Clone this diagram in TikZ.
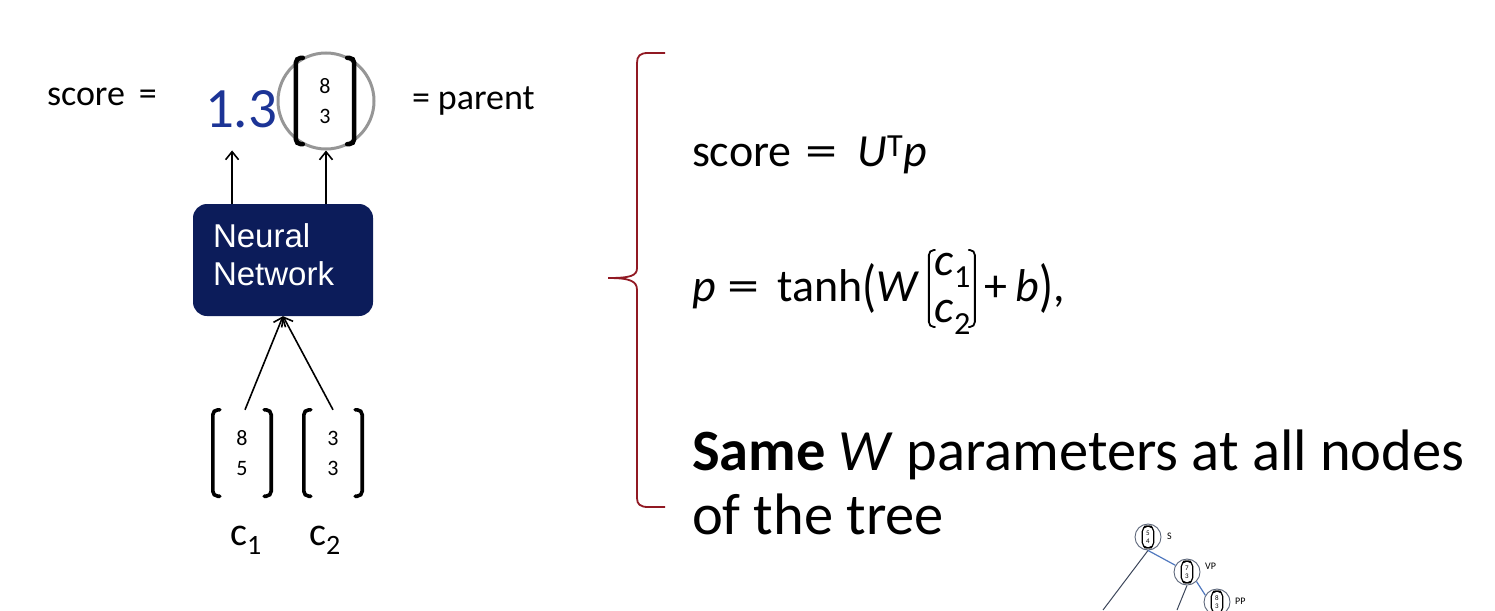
\documentclass[tikz,border=0pt]{standalone}
\usepackage{graphicx}
\usepackage{fontspec}
\setmainfont{Carlito}
\newfontfamily\arialf{Liberation Sans}
\usetikzlibrary{arrows.meta,calc}
\definecolor{nnnavy}{RGB}{12,28,90}
\definecolor{scoreblue}{RGB}{28,52,150}
\definecolor{bracered}{RGB}{145,25,35}
\definecolor{ringgray}{RGB}{150,150,150}
\definecolor{treeblue}{RGB}{80,120,190}
\definecolor{treedark}{RGB}{60,70,90}
\definecolor{treering}{RGB}{90,100,120}
\newcommand\vbr[3]{%
  \draw[brk,line width=#3] ($(#1.north west)+(#2,0)$) -- (#1.north west) -- (#1.south west) -- ($(#1.south west)+(#2,0)$);
  \draw[brk,line width=#3] ($(#1.north east)+(-#2,0)$) -- (#1.north east) -- (#1.south east) -- ($(#1.south east)+(-#2,0)$);}
\newcommand\weq{\scalebox{1.4}[1]{=}}
\begin{document}
\begin{tikzpicture}[x=1pt,y=-1pt,
  txt/.style={inner sep=0pt, outer sep=0pt},
  arr/.style={-{Straight Barb[length=8pt,width=13pt,line width=1.6pt]}, line width=1.6pt},
  vec/.style={inner sep=0pt, align=center, font=\fontsize{22}{30}\selectfont, minimum width=58pt, minimum height=86pt},
  brk/.style={line cap=round, rounded corners=5pt},
  tcirc/.style={circle, draw=treering, line width=0.9pt, minimum size=26pt, inner sep=0pt},
  tvec/.style={inner sep=0pt, align=center, font=\fontsize{7}{8}\selectfont, minimum width=11pt, minimum height=21pt},
  tlbl/.style={inner sep=0pt, anchor=west, font=\fontsize{10}{12}\selectfont},
  mid/.style={font=\fontsize{36}{43}\selectfont},
  big/.style={font=\fontsize{46}{54}\selectfont},
  huge/.style={font=\fontsize{58.5}{70}\selectfont}]
\useasboundingbox (0,0) rectangle (1495,610);

% ---- left part ----
\node[txt, mid, anchor=base west] (scoreL) at (47,105) {score\hspace{14pt}=};
\node[txt, anchor=base west, font=\fontsize{57}{68}\selectfont, text=scoreblue] (val) at (205,127) {1.3};
\node[circle, draw=ringgray, line width=3pt, minimum size=96pt, inner sep=0pt] (par) at (326,101) {};
\node[vec] (pvec) at (325,101) {8\\3};
\vbr{pvec}{7pt}{4.5pt}
\node[txt, mid, anchor=base west] (parent) at (412,109) {=\hspace{8pt}parent};

\node[fill=nnnavy, rounded corners=14pt, minimum width=180pt, minimum height=112pt, inner sep=0pt] (nn) at (283,260) {};
\node[text width=140pt, align=left, inner sep=0pt, text=white,
      font=\arialf\fontsize{33}{38}\selectfont] (nntext) at ([yshift=5pt]nn.center) {Neural\\Network};

\draw[arr] ([xshift=-9pt]val.south |- nn.north) -- ([xshift=-9pt,yshift=-23pt]val.south);
\draw[arr] (par.south |- nn.north) -- (par.south);

\node[vec] (v1) at (242,453) {8\\5};
\node[vec] (v2) at (333,453) {3\\3};
\vbr{v1}{7pt}{3.6pt}
\vbr{v2}{7pt}{3.6pt}
\draw[arr] ([xshift=3pt]v1.north) -- (nn.south);
\draw[arr] (v2.north) -- (nn.south);

\node[txt, anchor=base, font=\fontsize{40}{48}\selectfont] (c1) at (246,545) {c\textsubscript{1}};
\node[txt, anchor=base, font=\fontsize{40}{48}\selectfont] (c2) at (325,545) {c\textsubscript{2}};

% ---- brace ----
\draw[bracered, line width=1.8pt]
  (665,53) -- (648,53) .. controls (640,53) and (637,56) .. (637,63)
  -- (637,268) .. controls (637,276) and (630,278) .. (608,278)
  .. controls (630,278) and (637,281) .. (637,290)
  -- (637,498) .. controls (637,504) and (640,507) .. (648,507) -- (665,507);

% ---- right part ----
\node[txt, big, anchor=base west] (f1) at (692,166) {score\hspace{14pt}\weq\hspace{20pt}\textit{U}\textsuperscript{T}\textit{p}};
\node[txt, big, anchor=base west] (f2a) at (692,301) {\textit{p}\hspace{12pt}\weq\hspace{18pt}tanh\raisebox{-4pt}{\scalebox{1}[1.25]{(}}\textit{W}};
\node[txt, minimum width=46pt, minimum height=77pt] (cv) at ($(f2a.base east)+(32,-12.5)$) {};
\vbr{cv}{6pt}{1.8pt}
\node[txt, big, anchor=base west] (cv1) at ($(cv.north west)+(6,25)$) {\textit{c}\textsubscript{1}};
\node[txt, big, anchor=base west] (cv2) at ($(cv.north west)+(6,72)$) {\textit{c}\textsubscript{2}};
\node[txt, big, anchor=base west] (f2b) at ($(cv.east |- f2a.base)+(10,0)$) {+\hspace{8pt}\textit{b}\raisebox{-4pt}{\scalebox{1}[1.25]{)}},};

\node[txt, huge, anchor=base west] (f3a) at (692,470) {\textbf{Same} \textit{W} parameters at all nodes};
\node[txt, huge, anchor=base west] (f3b) at (692,534) {of the tree};

% ---- small tree ----
\node[tcirc] (tS) at (1148,537) {};
\node[tvec] (tSv) at (tS) {5\\4};
\vbr{tSv}{2pt}{1.2pt}
\node[tlbl] (tSl) at (1167,536) {S};
\node[tcirc] (tVP) at (1187,572) {};
\node[tvec] (tVPv) at (tVP) {7\\3};
\vbr{tVPv}{2pt}{1.2pt}
\node[tlbl] (tVPl) at (1205,566) {VP};
\node[tcirc] (tPP) at (1217,602) {};
\node[tvec] (tPPv) at (tPP) {8\\3};
\vbr{tPPv}{2pt}{1.2pt}
\node[tlbl] (tPPl) at (1235,601) {PP};
\coordinate (tA) at (1103,610);
\coordinate (tB) at (1177,610);
\draw[treedark, line width=1pt] (tS.south) -- (tA);
\draw[treeblue, line width=1.2pt] (tS.south) -- (tVP.150);
\draw[treedark, line width=1pt] (tVP.south) -- (tB);
\draw[treeblue, line width=1.2pt] (tVP.-45) -- (tPP.150);
\end{tikzpicture}
\end{document}
